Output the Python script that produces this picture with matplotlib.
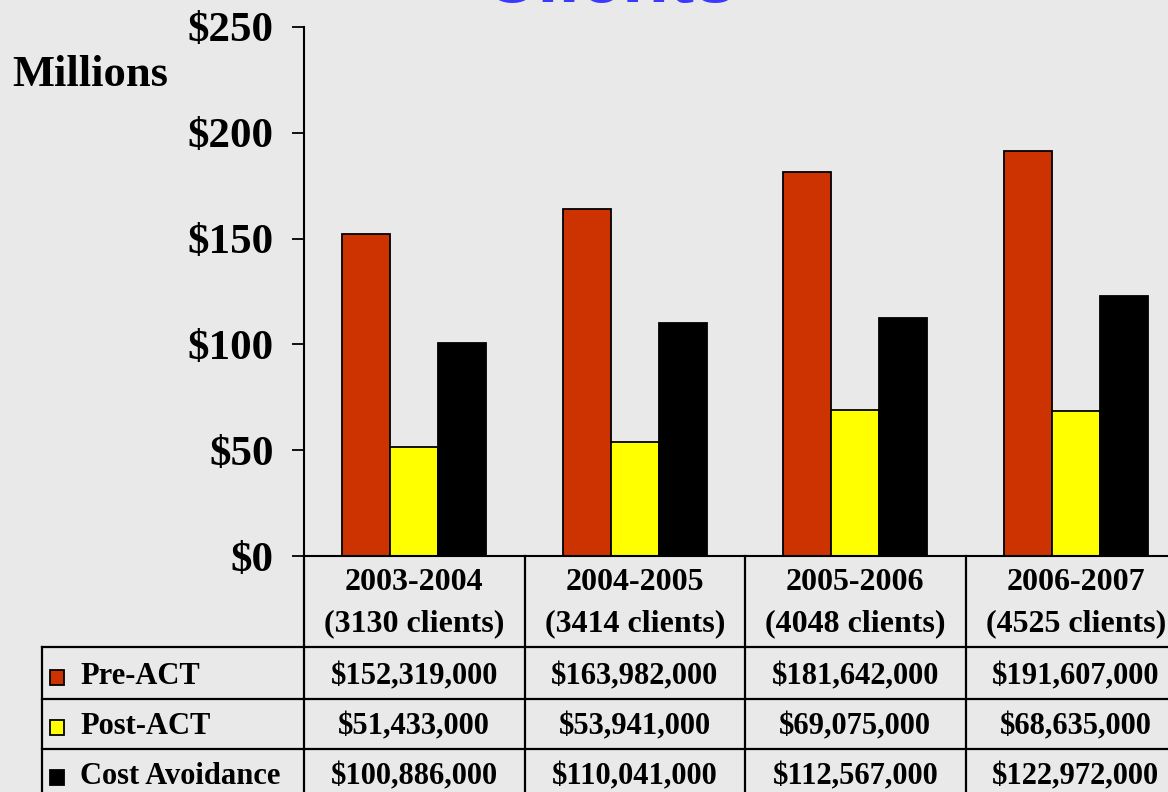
import numpy as np
import matplotlib.pyplot as plt
from matplotlib.transforms import blended_transform_factory
from matplotlib.patches import Rectangle

# ---- data ($ millions) ----
years = ["2003-2004", "2004-2005", "2005-2006", "2006-2007"]
clients = [3130, 3414, 4048, 4525]
series = ["Pre-ACT", "Post-ACT", "Cost Avoidance"]
pre_act = [152.319, 163.982, 181.642, 191.607]
post_act = [51.433, 53.941, 69.075, 68.635]
cost_avoid = [100.886, 110.041, 112.567, 122.972]
colors = ["#cc3300", "#ffff00", "#000000"]
yticks = [0, 50, 100, 150, 200, 250]

BG = "#e9e9e9"
W, H = 1168, 792
plt.rcParams["font.family"] = ["Liberation Serif", "DejaVu Serif"]
plt.rcParams["font.weight"] = "bold"

fig = plt.figure(figsize=(W / 100, H / 100), dpi=100, facecolor=BG)

# axes in pixel terms: left spine x=304, one category = 220.5 px, y 0 at 556, 250 at 27
x0, cw = 304, 220.5
ax = fig.add_axes([x0 / W, 1 - 556 / H, 4 * cw / W, (556 - 27) / H])
ax.set_facecolor(BG)

vals = [pre_act, post_act, cost_avoid]
bw = 48 / cw
x = np.arange(len(years))
for k, (v, c) in enumerate(zip(vals, colors)):
    ax.bar(x + (k - 1) * bw, v, bw, color=c, edgecolor="black", lw=1.3, zorder=2)

ax.set_xlim(-0.5, len(years) - 0.5)
ax.set_ylim(0, 250)
ax.set_yticks(yticks)
ax.set_yticklabels([f"${t}" for t in yticks], fontsize=31, fontweight="bold")
ax.tick_params(axis="y", length=9, width=1.3, pad=13, color="black")
ax.set_xticks([])
for s in ("top", "right"):
    ax.spines[s].set_visible(False)
ax.spines["left"].set_linewidth(1.5)
ax.spines["bottom"].set_linewidth(1.5)

fig.text(12 / W, 1 - 75 / H, "Millions", fontsize=32, fontweight="bold",
         ha="left", va="center")
fig.text(610 / W, 1 - 2 / H, "Clients", fontsize=55, fontweight="bold",
         color="#3a3aff", ha="center", va="baseline", family="Liberation Sans")

# ---- data table under the axis ----
tr = blended_transform_factory(ax.transData, fig.transFigure)
fy = lambda py: 1 - py / H
lw = 1.6
hdr_bot, row_lines, tab_bot = 647, [699, 749], 800
tab_left = 42

# column separators (from axis down through the table)
for i in range(len(years) + 1):
    ax.plot([i - 0.5, i - 0.5], [fy(556), fy(tab_bot)], transform=tr,
            color="black", lw=lw, clip_on=False)
# left edge of the label column and horizontal rules
fig.add_artist(plt.Line2D([tab_left / W] * 2, [fy(hdr_bot), fy(tab_bot)],
                          color="black", lw=lw))
for py in [hdr_bot] + row_lines:
    fig.add_artist(plt.Line2D([tab_left / W, 1.2], [fy(py)] * 2,
                              color="black", lw=lw))

# header cells
for i, (yr, n) in enumerate(zip(years, clients)):
    ax.text(i, fy(603), f"{yr}\n({n} clients)", transform=tr, ha="center",
            va="center", fontsize=23, fontweight="bold", linespacing=1.55)

# value rows with legend keys
row_centers = [677, 727, 777]
for k, (name, v, c) in enumerate(zip(series, vals, colors)):
    yc = row_centers[k]
    fig.add_artist(Rectangle((50 / W, fy(yc + 8)), 14 / W, 15 / H,
                             transform=fig.transFigure, facecolor=c,
                             edgecolor="black", lw=1.3))
    fig.text(80 / W, fy(yc), name, fontsize=22, fontweight="bold",
             ha="left", va="center")
    for i, val in enumerate(v):
        ax.text(i, fy(yc), f"${val * 1e6:,.0f}", transform=tr, ha="center",
                va="center", fontsize=22, fontweight="bold")

fig.savefig("out.png", dpi=100, facecolor=BG)
